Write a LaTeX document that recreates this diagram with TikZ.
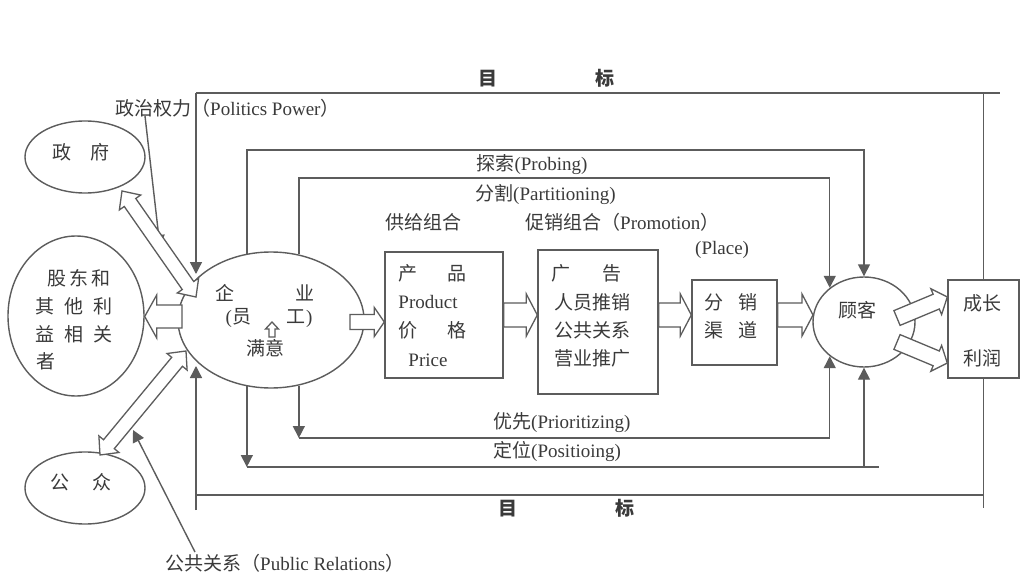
\documentclass[tikz,border=0pt]{standalone}
\usepackage{fontspec}
\setmainfont{Liberation Serif}
\newfontfamily\zh{Noto Sans CJK SC}
\usetikzlibrary{shapes.geometric,arrows.meta,calc}
\definecolor{lc}{HTML}{5C5C5C}
\definecolor{tc}{HTML}{3A3A3A}
\newcommand\barr[5]{% from, to, shaft half width, head half width, head length
  \coordinate (ba) at (#1); \coordinate (bb) at (#2);
  \coordinate (bh) at ($(bb)!#5!(ba)$);
  \draw[blk] ($(ba)!#3!90:(bb)$) -- ($(bh)!#3!90:(bb)$) -- ($(bh)!#4!90:(bb)$) -- (bb)
    -- ($(bh)!#4!-90:(bb)$) -- ($(bh)!#3!-90:(bb)$) -- ($(ba)!#3!-90:(bb)$) -- cycle;}
\newcommand\dbarr[5]{% double headed
  \coordinate (ba) at (#1); \coordinate (bb) at (#2);
  \coordinate (bh) at ($(bb)!#5!(ba)$);
  \coordinate (bg) at ($(ba)!#5!(bb)$);
  \draw[blk] (ba) -- ($(bg)!#4!90:(bb)$) -- ($(bg)!#3!90:(bb)$) -- ($(bh)!#3!90:(bb)$) -- ($(bh)!#4!90:(bb)$) -- (bb)
    -- ($(bh)!#4!-90:(bb)$) -- ($(bh)!#3!-90:(bb)$) -- ($(bg)!#3!-90:(bb)$) -- ($(bg)!#4!-90:(bb)$) -- cycle;}
\begin{document}
\begin{tikzpicture}[x=1pt,y=-1pt,
  lnk/.style={draw=lc,line width=1.4pt},
  arr/.style={-{Triangle[length=12pt,width=12pt]}},
  ell/.style={ellipse,draw=lc,line width=1.4pt,fill=white,inner sep=0pt},
  bx/.style={rectangle,draw=lc,line width=1.4pt,fill=white,inner sep=0pt},
  blk/.style={draw=lc,line width=1.3pt,fill=white,line join=miter},
  txt/.style={text=tc,inner sep=0pt,font=\fontsize{19}{22}\selectfont},
  ]
\fill[white] (0,0) rectangle (1021,575);
\useasboundingbox (0,0) rectangle (1021,575);

% ellipses and boxes
\node[ell,minimum width=120pt,minimum height=72pt] (gov) at (85,157) {};
\node[ell,minimum width=136pt,minimum height=160pt] (stake) at (76,316) {};
\node[ell,minimum width=186pt,minimum height=136pt] (ent) at (271,320) {};
\node[ell,minimum width=120pt,minimum height=72pt] (pub) at (85,488) {};
\node[ell,minimum width=102pt,minimum height=90pt] (cust) at (864,322) {};
\node[bx,minimum width=118pt,minimum height=126pt] (prod) at (444,315) {};
\node[bx,minimum width=120pt,minimum height=144pt] (adv) at (598,322) {};
\node[bx,minimum width=85pt,minimum height=85pt] (dist) at (734.5,322.5) {};
\node[bx,minimum width=71pt,minimum height=98pt] (grow) at (983.5,329) {};

% outer frame (goal)
\coordinate (fa) at (196,274);
\coordinate (fb) at (196,366);
\coordinate (ftl) at (196,93);
\coordinate (fbl) at (196,510);
\draw[lnk] (ftl) -- (1000,93);
\draw[lnk] (983.5,93) -- (grow.north);
\draw[lnk] (grow.south) -- (983.5,508);
\draw[lnk] (196,495) -- (983.5,495);
\draw[lnk,arr] (ftl) -- (fa);
\draw[lnk,arr] (fbl) -- (fb);

% loops
\coordinate (y1) at (0,150);
\coordinate (y2) at (0,178);
\coordinate (y3) at (0,438);
\coordinate (y4) at (0,467);
\draw[lnk,arr] (ent.110) -- (ent.110 |- y1) -| (cust.north);
\draw[lnk,arr] (ent.67) -- (ent.67 |- y2) -| (cust.135);
\draw[lnk,arr] (ent.-67) -- (ent.-67 |- y3);
\draw[lnk,arr] (ent.-67 |- y3) -| (cust.-135);
\draw[lnk,arr] (ent.-110) -- (ent.-110 |- y4);
\draw[lnk,arr] (ent.-110 |- y4) -| (cust.south);
\draw[lnk] (cust.south |- y4) -- ++(15,0);

% thin label arrows
\coordinate (pp) at (145,116);
\coordinate (ppt) at (160,247);
\draw[lnk,arr] (pp) -- (ppt);
\coordinate (pr) at (195,552);
\coordinate (prt) at (133,430);
\draw[lnk,arr] (pr) -- (prt);

% block arrows
\coordinate (a1) at (350,322);
\barr{a1}{prod.west |- a1}{7.5pt}{14.5pt}{10pt}
\coordinate (a2) at (0,315);
\barr{prod.east |- a2}{adv.west |- a2}{12pt}{21pt}{11pt}
\barr{adv.east |- a2}{dist.west |- a2}{12pt}{21pt}{11pt}
\barr{dist.east |- a2}{813,315}{12pt}{21pt}{11pt}
\barr{897,318}{grow.west |- 0,297}{8pt}{14pt}{12pt}
\barr{897,342}{grow.west |- 0,363}{8pt}{14pt}{12pt}
\barr{182,316.5}{stake.east |- 0,316.5}{11.5pt}{21.5pt}{12pt}
\dbarr{122,191}{196,297}{7pt}{13pt}{14pt}
\dbarr{100,455}{186,351}{7pt}{13pt}{14pt}
\barr{272,337}{272,322}{3pt}{6.5pt}{7pt}

% texts
\node[txt,font=\fontsize{19}{22}\selectfont\zh\bfseries] (g1) at (546.5,78) {目\hspace{98pt}标};
\node[txt,font=\fontsize{19}{22}\selectfont\zh\bfseries] (g2) at (566,508) {目\hspace{98pt}标};
\node[txt,anchor=west] (tpol) at (115,108) {{\zh 政治权力（}Politics Power{\zh ）}};
\node[txt,anchor=west] (tpr) at (165,563) {{\zh 公共关系（}Public Relations{\zh ）}};
\node[txt] (tgov) at (81,152) {{\zh 政\hspace{19pt}府}};
\node[txt] (tpub) at (81,482) {{\zh 公\hspace{23pt}众}};
\node[txt] (ts1) at (79,278) {{\zh 股\hspace{3pt}东\hspace{3pt}和}};
\node[txt] (ts2) at (74,306) {{\zh 其\hspace{10pt}他\hspace{10pt}利}};
\node[txt] (ts3) at (74,334) {{\zh 益\hspace{10pt}相\hspace{10pt}关}};
\node[txt] (ts4) at (46,361) {{\zh 者}};
\node[txt] (te1) at (265,293) {{\zh 企\hspace{61pt}业}};
\node[txt] (te2) at (269,318) {({\zh 员}\hspace{36pt}{\zh 工})};
\node[txt] (te3) at (265,348) {{\zh 满意}};
\node[txt] (tprob) at (532,165) {{\zh 探索}(Probing)};
\node[txt,anchor=west] (tpart) at (475,195) {{\zh 分割}(Partitioning)};
\node[txt,anchor=west] (tsup) at (385,222) {{\zh 供给组合}};
\node[txt,anchor=west] (tprom) at (525,222) {{\zh 促销组合（}Promotion{\zh ）}};
\node[txt,anchor=west] (tplace) at (695,250) {(Place)};
\node[txt] (tp1) at (432.5,273) {{\zh 产\hspace{30pt}品}};
\node[txt] (tp2) at (428,302) {Product};
\node[txt] (tp3) at (432.5,330) {{\zh 价\hspace{30pt}格}};
\node[txt] (tp4) at (428,360) {Price};
\node[txt] (ta1) at (586.5,273) {{\zh 广\hspace{32pt}告}};
\node[txt] (ta2) at (592,302) {{\zh 人员推销}};
\node[txt] (ta3) at (592,330) {{\zh 公共关系}};
\node[txt] (ta4) at (592,358) {{\zh 营业推广}};
\node[txt] (td1) at (731,302) {{\zh 分\hspace{15pt}销}};
\node[txt] (td2) at (731,330) {{\zh 渠\hspace{15pt}道}};
\node[txt] (tc) at (857,310) {{\zh 顾客}};
\node[txt] (tg1) at (982,303) {{\zh 成长}};
\node[txt] (tg2) at (982,358) {{\zh 利润}};
\node[txt,anchor=west] (tpri) at (493,423) {{\zh 优先}(Prioritizing)};
\node[txt,anchor=west] (tpos) at (493,452) {{\zh 定位}(Positioing)};
\end{tikzpicture}
\end{document}
